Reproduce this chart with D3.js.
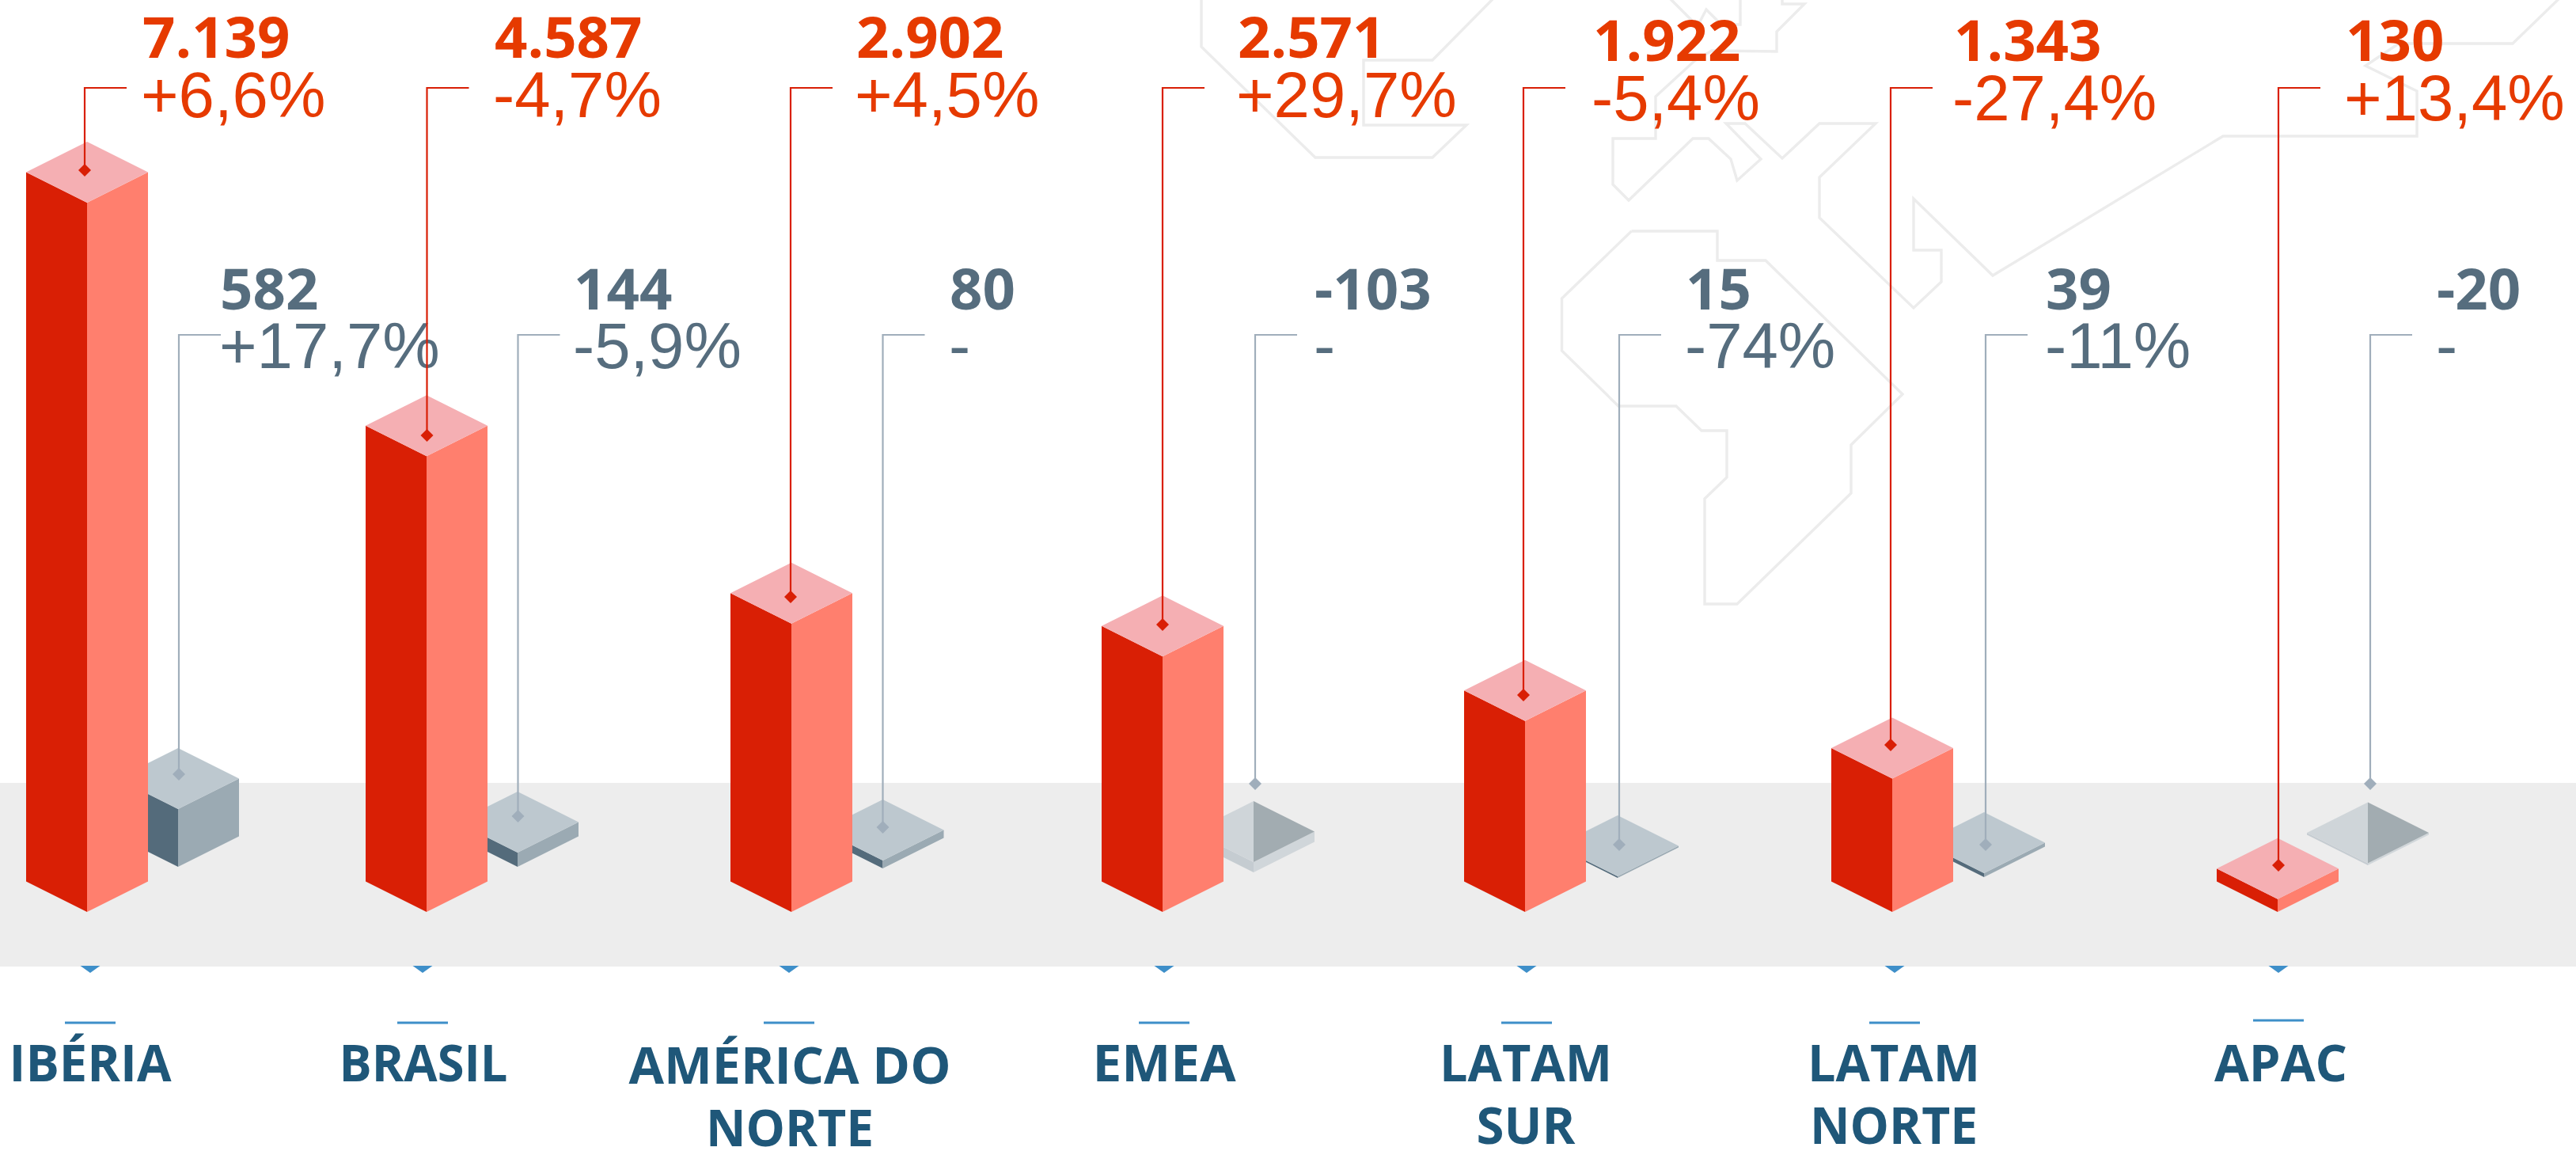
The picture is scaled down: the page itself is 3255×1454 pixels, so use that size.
<!DOCTYPE html>
<html><head><meta charset="utf-8">
<script src="https://cdn.jsdelivr.net/npm/d3@7"></script>
<style>html,body{margin:0;padding:0;background:#fff;overflow:hidden}svg{display:block}</style>
</head><body><svg id="c" width="3255" height="1454"></svg>
<script>
// ---- data ----
const regions = ["IBÉRIA","BRASIL","AMÉRICA DO NORTE","EMEA","LATAM SUR","LATAM NORTE","APAC"];
const labelLines = [["IBÉRIA"],["BRASIL"],["AMÉRICA DO","NORTE"],["EMEA"],["LATAM","SUR"],["LATAM","NORTE"],["APAC"]];
const redValues = [7139,4587,2902,2571,1922,1343,130];
const redValueText = ["7.139","4.587","2.902","2.571","1.922","1.343","130"];
const redPctText = ["+6,6%","-4,7%","+4,5%","+29,7%","-5,4%","-27,4%","+13,4%"];
const greyValues = [582,144,80,-103,15,39,-20];
const greyValueText = ["582","144","80","-103","15","39","-20"];
const greyPctText = ["+17,7%","-5,9%","-","-","-74%","-11%","-"];

// ---- layout scales (the reference spacing is uneven) ----
const xRed = d3.scaleOrdinal(regions,[110,539,1000,1469,1927,2391,2878]);
const xGrey = d3.scaleOrdinal(regions,[225,654,1115.5,1584,2044,2507,2992]);
const tipGrey = d3.scaleOrdinal(regions,[1095,1095,1097,1102,1109,1108,1093]);
const xLeadRed = d3.scaleOrdinal(regions,[107,539.5,999,1469,1925,2389,2879]);
const xLeadGrey = d3.scaleOrdinal(regions,[226,654.5,1115.5,1586,2046,2509,2995]);
const dotRed = d3.scaleOrdinal(regions,[215,550,754,789,878,941,1093]);
const dotGrey = d3.scaleOrdinal(regions,[978,1031,1045,990,1067,1067,990]);
const xTxtRed = d3.scaleOrdinal(regions,[180,625,1082,1564,2013,2469,2964]);
const xTxtGrey = d3.scaleOrdinal(regions,[278,725,1200,1661,2130,2585,3079]);
const yTxtRed = d3.scaleOrdinal(regions,[0,0,0,0,4,4,4]);
const xLabel = d3.scaleOrdinal(regions,[114,535,998,1471,1928,2393,2882]);
const xMark = d3.scaleOrdinal(regions,[114,534,997,1471,1929,2394,2879]);
const yRule = d3.scaleOrdinal(regions,[1292,1292,1292,1292,1292,1292,1289]);
const labelW = {"IBÉRIA":205,"BRASIL":213,"AMÉRICA DO":407,"NORTE":212,"EMEA":181,"LATAM":218,"SUR":125,"APAC":168};

const h = d3.scaleLinear().domain([0,7139]).range([0,896]);
const HW = 77, HH = 38.5, TIP = 1152;
const line = d3.line();
const svg = d3.select("#c");

// background world outline
const mapShapes = [
 [[1518,-5],[1518,59],[1662,199],[1810,199],[1853,158],[1723,158],[1723,76],[1810,76],[1890,-5]],
 [[2252,-5],[2252,5],[2280,5],[2245,40],[2245,65],[2163,64],[2141,77],[2092,122],[2092,175],[2038,175],[2038,233],[2058,253],[2139,175],[2159,175],[2187,201],[2195,228],[2225,201],[2181,156],[2205,156],[2252,200],[2299,156],[2370,156],[2299,224],[2299,275],[2418,389],[2453,356],[2453,316],[2418,316],[2418,251],[2518,348],[2809,172],[3054,172],[3054,115],[2989,83],[3031,55],[3175,55],[3237,-5]],
 [[2107,-5],[2145,33],[2156,12],[2175,31],[2199,31],[2199,-5]],
 [[2061.5,292],[2170,292],[2170,329],[2231,329],[2404,498],[2339,562],[2339,623],[2195,763],[2154,763],[2154,630],[2182,603],[2182,544],[2150,544],[2118,513],[2045,513],[1973.5,443],[1973.5,377],[2061.5,292]]
];
svg.append("g").selectAll("path").data(mapShapes).join("path")
  .attr("d",line).attr("fill","none").attr("stroke","#ECECEC").attr("stroke-width",3.4).attr("stroke-linejoin","miter");

// floor band
svg.append("rect").attr("x",0).attr("y",989).attr("width",3255).attr("height",232).attr("fill","#EDEDED");

// isometric column
function column(g,cx,tip,H,pal){
  const front = tip-H, mid = front-HH, apex = front-2*HH, base = tip-HH;
  const faces = [
    {pts:[[cx-HW,base],[cx,tip],[cx,front],[cx-HW,mid]],fill:pal.left},
    {pts:[[cx+HW,base],[cx,tip],[cx,front],[cx+HW,mid]],fill:pal.right}
  ];
  if(pal.topR){
    faces.push({pts:[[cx,apex],[cx-HW,mid],[cx,front]],fill:pal.top});
    faces.push({pts:[[cx,apex],[cx+HW,mid],[cx,front]],fill:pal.topR});
  } else faces.push({pts:[[cx,apex],[cx-HW,mid],[cx,front],[cx+HW,mid]],fill:pal.top});
  g.append("g").selectAll("path").data(faces).join("path")
    .attr("d",d=>line(d.pts)+"Z").attr("fill",d=>d.fill);
}
const palRed = {left:"#D91F05",right:"#FF7F6E",top:"#F5AFB3"};
const palGrey = {left:"#546B7B",right:"#9BAAB3",top:"#BDC8CF"};
const palNeg = {left:"#C5CCD1",right:"#D0D6DA",top:"#CFD5D9",topR:"#A2ACB1"};

const bars = svg.append("g");
regions.forEach((r,i)=>{
  const v = greyValues[i];
  column(bars,xGrey(r),tipGrey(r),h(Math.abs(v)),v<0?palNeg:palGrey);
});
regions.forEach((r,i)=>column(bars,xRed(r),TIP,h(redValues[i]),palRed));

// blue markers and region names
svg.append("g").selectAll("path").data(regions).join("path")
  .attr("d",r=>line([[xMark(r)-12.5,1220],[xMark(r)+12.5,1220],[xMark(r),1229]])+"Z").attr("fill","#3E8FC9");
svg.append("g").selectAll("rect").data(regions).join("rect")
  .attr("x",r=>xMark(r)-32).attr("y",r=>yRule(r)-1.5).attr("width",64).attr("height",3).attr("fill","#3E8FC9");
const lab = svg.append("g").attr("font-family","'Open Sans'").attr("font-weight",700).attr("font-size",65).attr("fill","#1F5779").attr("text-anchor","middle");
regions.forEach((r,i)=>{
  labelLines[i].forEach((t,k)=>{
    const am = r.startsWith("AMÉRICA");
    lab.append("text").attr("x",xLabel(r)).attr("y",(am?1369:1366)+k*(am?78.5:79))
      .attr("textLength",labelW[t]).attr("lengthAdjust","spacingAndGlyphs").text(t);
  });
});

// value labels
function labels(vals,pcts,xs,pctShift,y1,y2,dy,col){
  const g = svg.append("g").attr("fill",col);
  g.selectAll("text.v").data(regions).join("text").attr("class","v")
    .attr("x",xs).attr("y",r=>y1+dy(r)).attr("font-family","'Open Sans'").attr("font-weight",700).attr("font-size",72.5)
    .text((r,i)=>vals[i]);
  g.selectAll("text.p").data(regions).join("text").attr("class","p")
    .attr("x",r=>xs(r)+pctShift).attr("y",r=>y2+dy(r)).attr("font-family","'Liberation Sans'").attr("font-size",81.5)
    .text((r,i)=>pcts[i]);
}
labels(redValueText,redPctText,xTxtRed,-2,73,148,yTxtRed,"#E63A00");
labels(greyValueText,greyPctText,xTxtGrey,-1,391,465,()=>0,"#566D7E");

// leaders
function leaders(xs,ys,yTop,col){
  const g = svg.append("g");
  g.selectAll("path.l").data(regions).join("path").attr("class","l")
    .attr("d",r=>line([[xs(r)+53,yTop],[xs(r),yTop],[xs(r),ys(r)]]))
    .attr("fill","none").attr("stroke",col).attr("stroke-width",2.2);
  g.selectAll("path.d").data(regions).join("path").attr("class","d")
    .attr("d",r=>line([[xs(r),ys(r)-8],[xs(r)+8,ys(r)],[xs(r),ys(r)+8],[xs(r)-8,ys(r)]])+"Z").attr("fill",col);
}
leaders(xLeadGrey,dotGrey,423,"#A0AEBB");
leaders(xLeadRed,dotRed,111,"#D91F05");
</script></body></html>
